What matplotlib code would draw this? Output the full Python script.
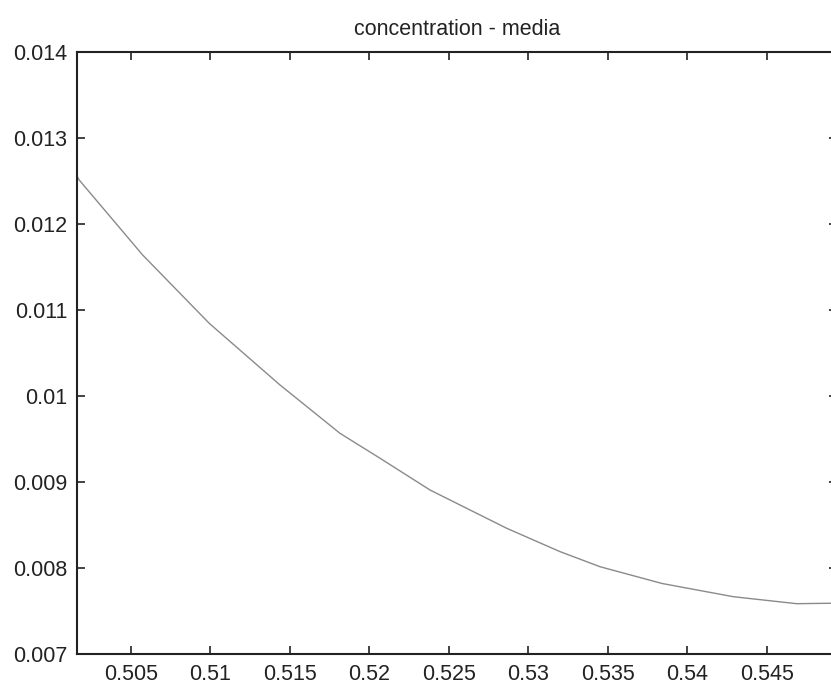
import matplotlib
matplotlib.use('Agg')
import matplotlib.pyplot as plt

# values
conc = [0.50160, 0.50175, 0.50574, 0.50993, 0.51438, 0.51815, 0.52067,
        0.52381, 0.52863, 0.53199, 0.53450, 0.53840, 0.54289,
        0.54687, 0.54897, 0.54940]
media = [0.012560, 0.012512, 0.011640, 0.010845, 0.010128, 0.009566, 0.009276,
         0.008907, 0.008462, 0.008190, 0.008015, 0.007820, 0.007666,
         0.007585, 0.007590, 0.007592]

x_ticks = [0.505, 0.51, 0.515, 0.52, 0.525, 0.53, 0.535, 0.54, 0.545]
x_labels = ['0.505', '0.51', '0.515', '0.52', '0.525', '0.53', '0.535', '0.54', '0.545']
y_ticks = [0.007, 0.008, 0.009, 0.01, 0.011, 0.012, 0.013, 0.014]
y_labels = ['0.007', '0.008', '0.009', '0.01', '0.011', '0.012', '0.013', '0.014']

plt.rcParams['font.family'] = ['Liberation Sans', 'DejaVu Sans']

fig = plt.figure(figsize=(8.31, 6.89), dpi=100)
ax = fig.add_axes([0.0924, 0.0508, 0.9148, 0.8737])
ax.plot(conc, media, color='#8a8a8a', linewidth=1.0)

ax.set_xlim(0.5016, 0.5494)
ax.set_ylim(0.007, 0.014)
ax.set_xticks(x_ticks)
ax.set_xticklabels(x_labels)
ax.set_yticks(y_ticks)
ax.set_yticklabels(y_labels)
ax.tick_params(direction='in', length=6, width=1.2, top=True, right=True,
               labelsize=15.5, pad=7, colors='#222222')
for s in ax.spines.values():
    s.set_linewidth(1.5)
    s.set_color('#222222')

ax.set_title('concentration - media', fontsize=15.5, pad=12, color='#222222')

fig.savefig('out.png', dpi=100)
